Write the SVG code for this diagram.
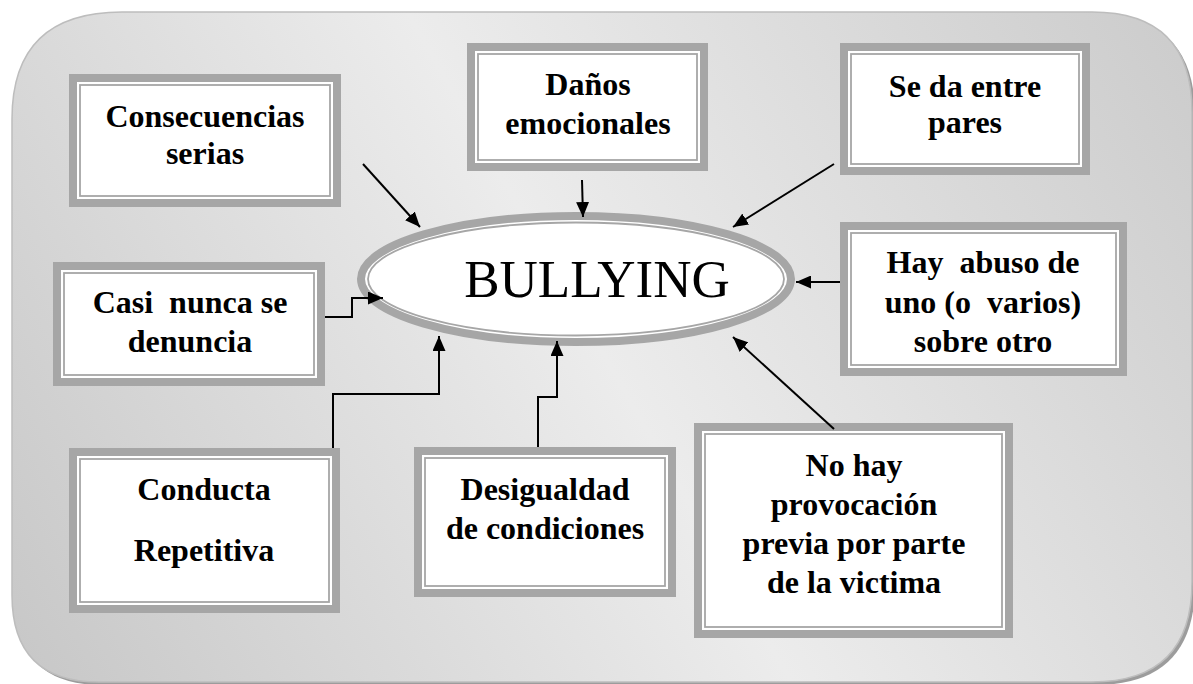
<svg xmlns="http://www.w3.org/2000/svg" width="1193" height="684" viewBox="0 0 1193 684">
<defs>
<linearGradient id="bg" gradientUnits="userSpaceOnUse" x1="1193" y1="0" x2="0" y2="684">
<stop offset="0" stop-color="#cbcbcb"/>
<stop offset="0.5" stop-color="#ececec"/>
<stop offset="1" stop-color="#c6c6c6"/>
</linearGradient>
<marker id="ah" markerUnits="userSpaceOnUse" markerWidth="15" markerHeight="13" refX="15" refY="6.5" orient="auto" viewBox="0 0 15 13">
<path d="M0,0 L15,6.5 L0,13 z" fill="#000"/>
</marker>
<style>
.ob{fill:#fff;stroke:#a6a6a6;stroke-width:8}
.ib{fill:none;stroke:#a6a6a6;stroke-width:1.8}
.t{font-family:"Liberation Serif","Times New Roman",serif;font-weight:bold;font-size:32px;fill:#000;text-anchor:middle}
.c{fill:none;stroke:#000;stroke-width:2;marker-end:url(#ah)}
</style>
</defs>
<path d="M126,15 H1095 Q1195,15 1195,115 V585 Q1195,685 1095,685 H102 Q15,685 15,598 V122 Q15,15 126,15 Z" fill="#9c9c9c"/>
<path d="M122,12 H1092 Q1192,12 1192,112 V582 Q1192,682 1092,682 H99 Q12,682 12,595 V119 Q12,12 122,12 Z" fill="url(#bg)" stroke="#bdbdbd" stroke-width="1.5"/>

<g id="bullying">
<ellipse cx="576" cy="279" rx="215" ry="63" class="ob"/>
<ellipse cx="576" cy="279" rx="208" ry="56.5" class="ib"/>
<text x="597" y="297" font-family="'Liberation Serif','Times New Roman',serif" font-size="53" text-anchor="middle">BULLYING</text>
</g>

<g id="consecuencias">
<rect x="73" y="78" width="264" height="125" class="ob"/>
<rect x="80" y="85" width="250" height="111" class="ib"/>
<text class="t" x="205" y="127">Consecuencias</text>
<text class="t" x="205" y="164">serias</text>
</g>

<g id="danos">
<rect x="471" y="47" width="233" height="120" class="ob"/>
<rect x="478" y="54" width="219" height="106" class="ib"/>
<text class="t" x="588" y="95">Daños</text>
<text class="t" x="588" y="134">emocionales</text>
</g>

<g id="pares">
<rect x="844" y="47" width="242" height="124" class="ob"/>
<rect x="851" y="54" width="228" height="110" class="ib"/>
<text class="t" x="965" y="97">Se da entre</text>
<text class="t" x="965" y="133">pares</text>
</g>

<g id="denuncia">
<rect x="57" y="266" width="264" height="116" class="ob"/>
<rect x="64" y="273" width="250" height="102" class="ib"/>
<text class="t" x="190" y="313" xml:space="preserve">Casi  nunca se</text>
<text class="t" x="190" y="352">denuncia</text>
</g>

<g id="abuso">
<rect x="844" y="226" width="279" height="146" class="ob"/>
<rect x="851" y="233" width="265" height="132" class="ib"/>
<text class="t" x="983" y="273" xml:space="preserve">Hay  abuso de</text>
<text class="t" x="983" y="313" xml:space="preserve">uno (o  varios)</text>
<text class="t" x="983" y="352">sobre otro</text>
</g>

<g id="conducta">
<rect x="73" y="452" width="263" height="157" class="ob"/>
<rect x="80" y="459" width="249" height="143" class="ib"/>
<text class="t" x="204" y="500">Conducta</text>
<text class="t" x="204" y="561">Repetitiva</text>
</g>

<g id="desigualdad">
<rect x="418" y="451" width="254" height="142" class="ob"/>
<rect x="425" y="458" width="240" height="128" class="ib"/>
<text class="t" x="545" y="500">Desigualdad</text>
<text class="t" x="545" y="539">de condiciones</text>
</g>

<g id="provocacion">
<rect x="698" y="427" width="311" height="207" class="ob"/>
<rect x="705" y="434" width="297" height="193" class="ib"/>
<text class="t" x="854" y="476">No hay</text>
<text class="t" x="854" y="515">provocación</text>
<text class="t" x="854" y="554">previa por parte</text>
<text class="t" x="854" y="593">de la victima</text>
</g>

<g id="connectors">
<line x1="363" y1="164" x2="420" y2="227" class="c"/>
<line x1="582" y1="180" x2="583" y2="217" class="c"/>
<line x1="834" y1="164" x2="733" y2="227" class="c"/>
<polyline points="325,317 352,317 352,298 383,298" class="c"/>
<line x1="840" y1="282" x2="796" y2="282" class="c"/>
<polyline points="333,448 333,394 439,394 439,336" class="c"/>
<polyline points="538,447 538,397 557,397 557,341" class="c"/>
<line x1="834" y1="429" x2="733" y2="337" class="c"/>
</g>
</svg>
